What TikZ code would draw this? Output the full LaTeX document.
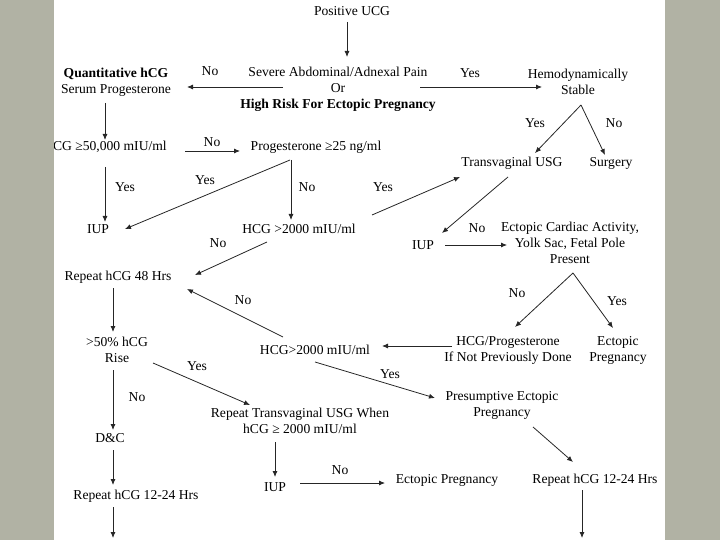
\documentclass[tikz,border=0pt]{standalone}
\usepackage{fontspec}
\setmainfont{Liberation Serif}
\usetikzlibrary{arrows.meta,calc}
\definecolor{slidegrey}{HTML}{B1B2A4}
\tikzset{
  txt/.style={align=center, inner sep=0pt, font=\fontsize{13.6}{16}\selectfont},
  lbl/.style={inner sep=0pt, font=\fontsize{13.6}{16}\selectfont},
  arrow/.style={-{Latex[length=6pt,width=5pt]}, line width=0.8pt, draw=black!85},
  margin/.style={fill=slidegrey}
}
\begin{document}
\begin{tikzpicture}[x=1pt, y=-1pt]
  \useasboundingbox (0,0) rectangle (720,540);

  % boxes of text
  \node[txt] (pos) at (352,11) {Positive UCG};
  \node[txt] (severe) at (338,89) {Severe Abdominal/Adnexal Pain\\Or\\\textbf{High Risk For Ectopic Pregnancy}};
  \node[txt] (quant) at (116,82) {\textbf{Quantitative hCG}\\Serum Progesterone};
  \node[txt] (hemo) at (578,82) {Hemodynamically\\Stable};
  \node[txt] (hcg50) at (105,147) {HCG ≥50,000 mIU/ml};
  \node[txt] (prog) at (316,147) {Progesterone ≥25 ng/ml};
  \node[txt] (iupa) at (98,229) {IUP};
  \node[txt] (hcgtwo) at (299,229) {HCG >2000 mIU/ml};
  \node[txt] (tvusg) at (512,163) {Transvaginal USG};
  \node[txt] (surgery) at (611,163) {Surgery};
  \node[txt] (iupb) at (423,245) {IUP};
  \node[txt] (cardiac) at (570,243) {Ectopic Cardiac Activity,\\Yolk Sac, Fetal Pole\\Present};
  \node[txt] (rep48) at (118,277) {Repeat hCG 48 Hrs};
  \node[txt] (rise) at (117,350) {>50\% hCG\\Rise};
  \node[txt] (hcgtwob) at (315,350) {HCG>2000 mIU/ml};
  \node[txt] (hcgprog) at (508,350) {HCG/Progesterone\\If Not Previously Done};
  \node[txt] (ectopica) at (618,350) {Ectopic\\Pregnancy};
  \node[txt] (presump) at (502,405) {Presumptive Ectopic\\Pregnancy};
  \node[txt] (reptv) at (300,421) {Repeat Transvaginal USG When\\hCG ≥ 2000 mIU/ml};
  \node[txt] (dc) at (110,438) {D\&C};
  \node[txt] (repa) at (136,496) {Repeat hCG 12-24 Hrs};
  \node[txt] (iupc) at (275,487) {IUP};
  \node[txt] (ectopicb) at (447,480) {Ectopic Pregnancy};
  \node[txt] (repb) at (595,480) {Repeat hCG 12-24 Hrs};
  \coordinate (enda) at (113,538);
  \coordinate (endb) at (582,538);

  % connectors
  \draw[arrow] ([shift={(-5,11)}]pos.center) -- ([shift={(9,-32)}]severe.center);
  \draw[arrow] ([shift={(-55,-2)}]severe.center) -- ([shift={(71,5)}]quant.center);
  \draw[arrow] ([shift={(82,-2)}]severe.center) -- ([shift={(-36,5)}]hemo.center);
  \draw[arrow] ([shift={(3,23)}]hemo.center) -- ([shift={(23,-10)}]tvusg.center);
  \draw[arrow] ([shift={(3,23)}]hemo.center) -- ([shift={(-6,-8)}]surgery.center);
  \draw[arrow] ([shift={(-11,21)}]quant.center) -- ([shift={(0,-7)}]hcg50.center);
  \draw[arrow] ([shift={(80,4)}]hcg50.center) -- ([shift={(-76,4)}]prog.center);
  \draw[arrow] ([shift={(0,20)}]hcg50.center) -- ([shift={(7,-7)}]iupa.center);
  \draw[arrow] ([shift={(-26,13)}]prog.center) -- ([shift={(27,0)}]iupa.center);
  \draw[arrow] ([shift={(-25,13)}]prog.center) -- ([shift={(-8,-9)}]hcgtwo.center);
  \draw[arrow] ([shift={(73,-14)}]hcgtwo.center) -- ([shift={(-52,14)}]tvusg.center);
  \draw[arrow] ([shift={(-32,13)}]hcgtwo.center) -- ([shift={(77,-2)}]rep48.center);
  \draw[arrow] ([shift={(-4,14)}]tvusg.center) -- ([shift={(19,-12)}]iupb.center);
  \draw[arrow] ([shift={(22,0)}]iupb.center) -- ([shift={(-63,2)}]cardiac.center);
  \draw[arrow] ([shift={(3,30)}]cardiac.center) -- ([shift={(7,-23)}]hcgprog.center);
  \draw[arrow] ([shift={(3,30)}]cardiac.center) -- ([shift={(-5,-22)}]ectopica.center);
  \draw[arrow] ([shift={(-56,-4)}]hcgprog.center) -- ([shift={(67,-4)}]hcgtwob.center);
  \draw[arrow] ([shift={(-32,-13)}]hcgtwob.center) -- ([shift={(69,12)}]rep48.center);
  \draw[arrow] ([shift={(0,12)}]hcgtwob.center) -- ([shift={(-67,-7)}]presump.center);
  \draw[arrow] ([shift={(-5,11)}]rep48.center) -- ([shift={(-4,-18)}]rise.center);
  \draw[arrow] ([shift={(36,13)}]rise.center) -- ([shift={(-50,-16)}]reptv.center);
  \draw[arrow] ([shift={(-4,20)}]rise.center) -- ([shift={(3,-8)}]dc.center);
  \draw[arrow] ([shift={(3,12)}]dc.center) -- ([shift={(-23,-11)}]repa.center);
  \draw[arrow] ([shift={(-23,11)}]repa.center) -- (enda);
  \draw[arrow] ([shift={(-25,21)}]reptv.center) -- ([shift={(0,-10)}]iupc.center);
  \draw[arrow] ([shift={(25,-4)}]iupc.center) -- ([shift={(-62,3)}]ectopicb.center);
  \draw[arrow] ([shift={(31,22)}]presump.center) -- ([shift={(-22,-18)}]repb.center);
  \draw[arrow] ([shift={(-13,10)}]repb.center) -- (endb);

  % Yes / No
  \node[lbl] (l1) at (210,71) {No};
  \node[lbl] (l2) at (470,73) {Yes};
  \node[lbl] (l3) at (535,123) {Yes};
  \node[lbl] (l4) at (614,123) {No};
  \node[lbl] (l5) at (212,142) {No};
  \node[lbl] (l6) at (125,187) {Yes};
  \node[lbl] (l7) at (205,180) {Yes};
  \node[lbl] (l8) at (307,187) {No};
  \node[lbl] (l9) at (383,187) {Yes};
  \node[lbl] (l10) at (218,243) {No};
  \node[lbl] (l11) at (477,228) {No};
  \node[lbl] (l12) at (517,293) {No};
  \node[lbl] (l13) at (617,301) {Yes};
  \node[lbl] (l14) at (243,300) {No};
  \node[lbl] (l15) at (197,366) {Yes};
  \node[lbl] (l16) at (390,374) {Yes};
  \node[lbl] (l17) at (137,397) {No};
  \node[lbl] (l18) at (340,470) {No};

  % slide margins
  \fill[margin] (0,0) rectangle (54,540);
  \fill[margin] (665,0) rectangle (720,540);
\end{tikzpicture}
\end{document}
